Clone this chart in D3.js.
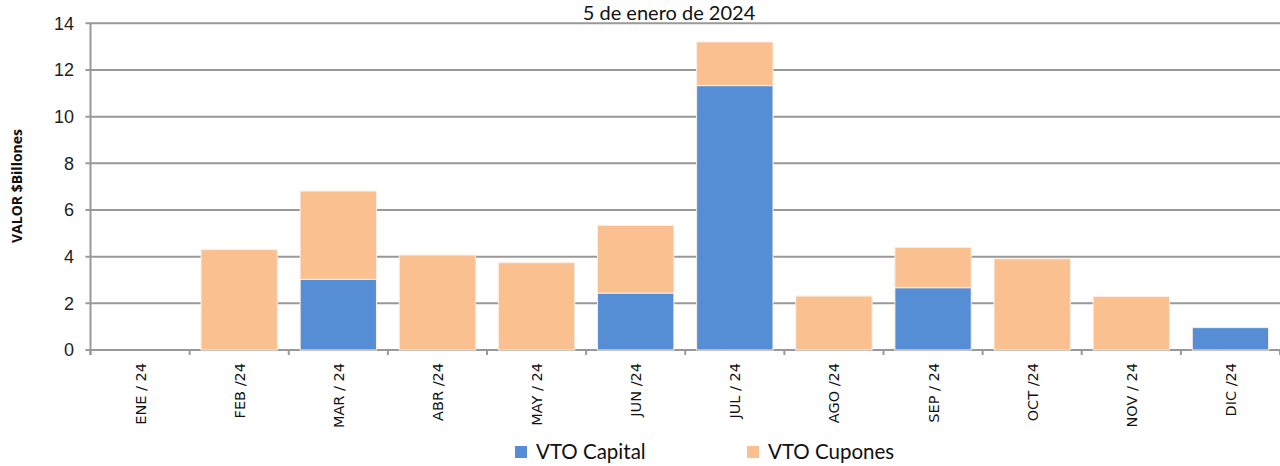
<!DOCTYPE html>
<html>
<head>
<meta charset="utf-8">
<script src="https://cdn.jsdelivr.net/npm/d3@7"></script>
<style>
  html, body { margin: 0; padding: 0; background: #fff; }
  svg { display: block; }
</style>
</head>
<body>
<svg id="chart" width="1280" height="466"></svg>
<script>
// Monthly maturities, 2024 (billions)
const months = ["ENE / 24", "FEB /24", "MAR / 24", "ABR /24", "MAY / 24", "JUN /24",
                "JUL / 24", "AGO /24", "SEP / 24", "OCT /24", "NOV / 24", "DIC /24"];
const capital = [0, 0, 3.03, 0, 0, 2.44, 11.33, 0, 2.67, 0, 0, 0.96];
const cupones = [0, 4.3, 3.78, 4.07, 3.74, 2.9, 1.87, 2.31, 1.73, 3.91, 2.29, 0];
const yTicks = [0, 2, 4, 6, 8, 10, 12, 14];
const seriesNames = ["VTO Capital", "VTO Cupones"];
const seriesColors = ["#558ED5", "#FAC090"];
const title = "5 de enero de 2024";
const yTitle = "VALOR $Billones";

const svg = d3.select("#chart");
const m = { left: 90.5, right: 1280, top: 23.3, bottom: 350 };

const x = d3.scaleBand().domain(months).range([m.left, m.right]).paddingInner(0.23).paddingOuter(0.115);
const xTickScale = d3.scaleLinear().domain([0, months.length]).range([m.left, m.right]);
const y = d3.scaleLinear().domain([0, 14]).range([m.bottom, m.top]);

const rows = months.map((mo, i) => ({ month: mo, capital: capital[i], cupones: cupones[i] }));
const stack = d3.stack().keys(["capital", "cupones"])(rows);

// gridlines
svg.append("g").selectAll("line").data(yTicks).join("line")
  .attr("x1", m.left - 5).attr("x2", m.right)
  .attr("y1", d => y(d)).attr("y2", d => y(d))
  .attr("stroke", "#999").attr("stroke-width", 2);

// stacked bars
svg.append("g").selectAll("g").data(stack).join("g")
  .attr("fill", (d, i) => seriesColors[i])
  .selectAll("rect").data(d => d.filter(s => s[1] - s[0] > 0)).join("rect")
  .attr("x", d => x(d.data.month))
  .attr("width", x.bandwidth())
  .attr("y", d => y(d[1]))
  .attr("height", d => y(d[0]) - y(d[1]))
  .attr("stroke", "#fdeee2").attr("stroke-width", 1);

// y axis line
svg.append("line").attr("x1", m.left).attr("x2", m.left)
  .attr("y1", m.top).attr("y2", m.bottom + 5)
  .attr("stroke", "#999").attr("stroke-width", 2);

// x axis tick marks at category boundaries
svg.append("g").selectAll("line").data(d3.range(months.length + 1)).join("line")
  .attr("x1", d => xTickScale(d)).attr("x2", d => xTickScale(d))
  .attr("y1", m.bottom).attr("y2", m.bottom + 5)
  .attr("stroke", "#999").attr("stroke-width", 2);

// y tick labels
svg.append("g").selectAll("text").data(yTicks).join("text")
  .attr("x", 74).attr("y", d => y(d)).attr("dy", "0.35em")
  .attr("text-anchor", "end")
  .attr("font-family", "Liberation Sans, Arial, sans-serif")
  .attr("font-size", 18).attr("fill", "#222")
  .text(d => d);

// x tick labels, rotated
svg.append("g").selectAll("text").data(months).join("text")
  .attr("transform", d => `translate(${x(d) + x.bandwidth() / 2 + 5.5},363) rotate(-90)`)
  .attr("text-anchor", "end")
  .attr("font-family", "DejaVu Sans, Verdana, sans-serif")
  .attr("font-size", 14.5).attr("fill", "#111")
  .text(d => d);

// y axis title
svg.append("text")
  .attr("transform", "translate(22,186) rotate(-90)")
  .attr("text-anchor", "middle")
  .attr("font-family", "Open Sans, sans-serif")
  .attr("font-weight", "bold")
  .attr("font-size", 14).attr("fill", "#111")
  .text(yTitle);

// chart title
svg.append("text")
  .attr("x", 669).attr("y", 20)
  .attr("text-anchor", "middle")
  .attr("font-family", "Lato, sans-serif")
  .attr("font-size", 20).attr("fill", "#111")
  .text(title);

// legend
const legendX = [515, 747];
const lg = svg.append("g").selectAll("g").data(seriesNames).join("g")
  .attr("transform", (d, i) => `translate(${legendX[i]},446)`);
lg.append("rect").attr("width", 12).attr("height", 12).attr("fill", (d, i) => seriesColors[i]);
lg.append("text").attr("x", 21).attr("y", 13)
  .attr("font-family", "Lato, sans-serif")
  .attr("font-size", 20.5).attr("fill", "#111")
  .text(d => d);
</script>
</body>
</html>
